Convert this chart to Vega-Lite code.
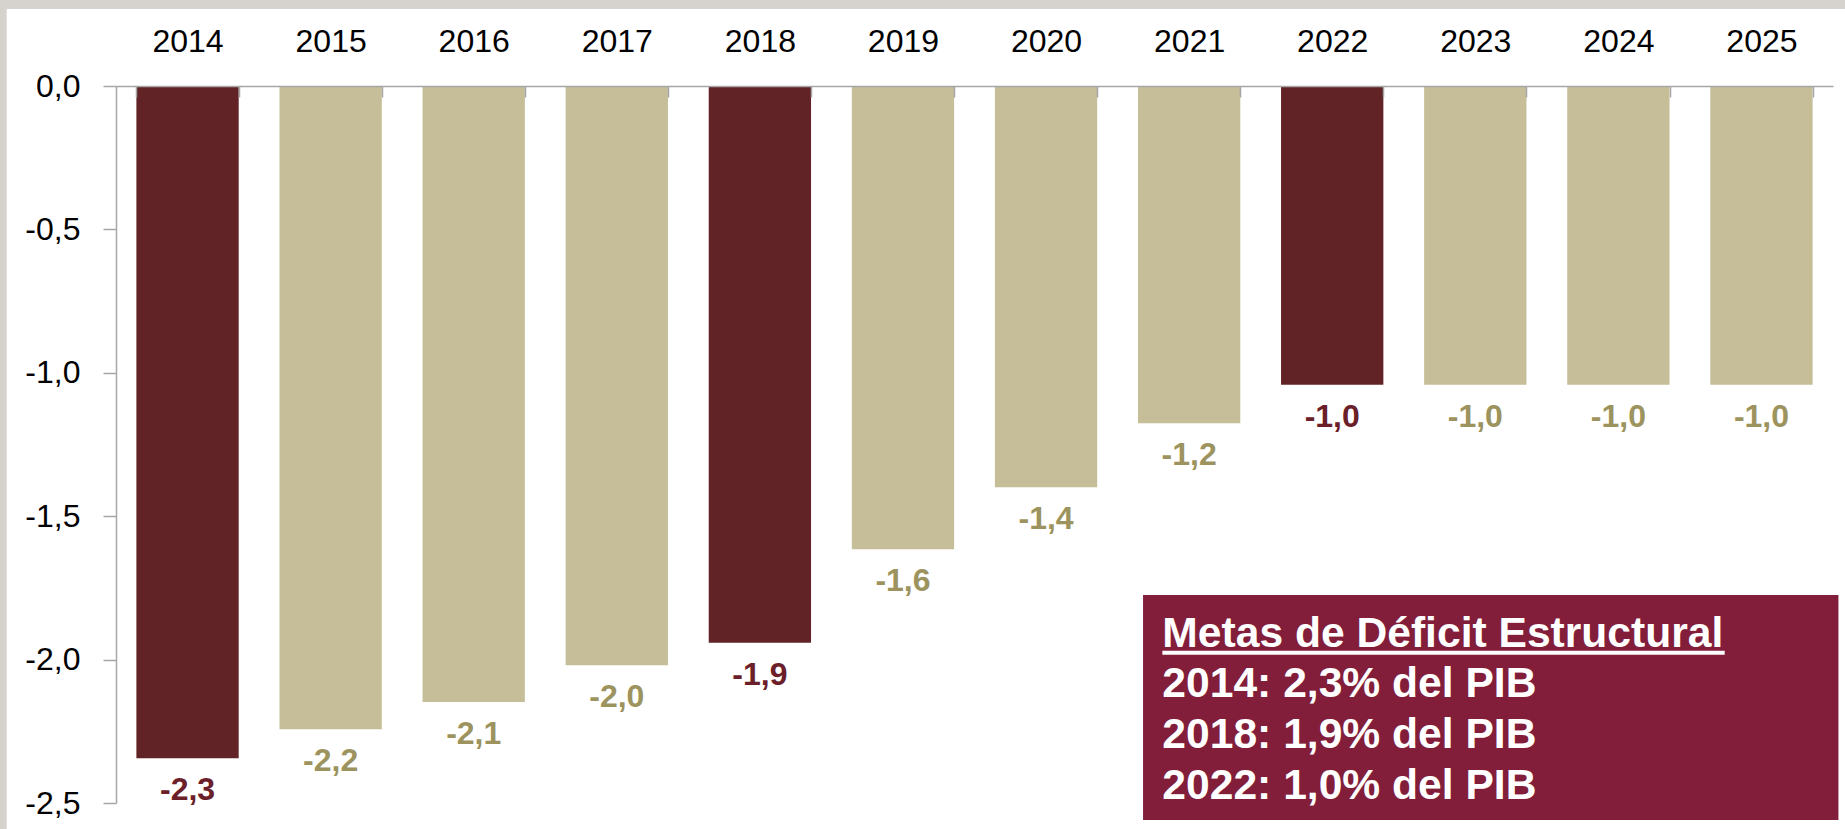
{
  "$schema": "https://vega.github.io/schema/vega-lite/v6.json",
  "autosize": {"type": "none"},
  "width": 1717,
  "height": 717,
  "padding": {"left": 116, "top": 86, "right": 12, "bottom": 26},
  "background": "#d6d3ce",
  "config": {
    "view": {"stroke": null},
    "font": "Liberation Sans",
    "axis": {"domainColor": "#a6a6a6", "tickColor": "#a6a6a6", "domainWidth": 1.5, "tickWidth": 1.5, "labelFontSize": 32, "labelColor": "#000000", "labelFont": "Liberation Sans", "grid": false}
  },
  "datasets": {
    "fondo": [{"x1": -0.764, "x2": 12.3, "y1": 0.2685, "y2": -2.8}],
    "barras": [
      {"anio": "2014", "valor": -2.344, "etiqueta": "-2,3", "meta": "si"},
      {"anio": "2015", "valor": -2.243, "etiqueta": "-2,2", "meta": "no"},
      {"anio": "2016", "valor": -2.148, "etiqueta": "-2,1", "meta": "no"},
      {"anio": "2017", "valor": -2.020, "etiqueta": "-2,0", "meta": "no"},
      {"anio": "2018", "valor": -1.941, "etiqueta": "-1,9", "meta": "si"},
      {"anio": "2019", "valor": -1.615, "etiqueta": "-1,6", "meta": "no"},
      {"anio": "2020", "valor": -1.399, "etiqueta": "-1,4", "meta": "no"},
      {"anio": "2021", "valor": -1.176, "etiqueta": "-1,2", "meta": "no"},
      {"anio": "2022", "valor": -1.042, "etiqueta": "-1,0", "meta": "si"},
      {"anio": "2023", "valor": -1.042, "etiqueta": "-1,0", "meta": "no"},
      {"anio": "2024", "valor": -1.042, "etiqueta": "-1,0", "meta": "no"},
      {"anio": "2025", "valor": -1.042, "etiqueta": "-1,0", "meta": "no"}
    ],
    "recuadro": [{"x1": 7.178, "x2": 12.038, "y1": -1.775, "y2": -2.559}],
    "subrayado": [{"x1": 7.313, "x2": 11.243, "y": -1.976}],
    "textos": [
      {"x": 7.313, "y": -1.955, "texto": "Metas de Déficit Estructural"},
      {"x": 7.313, "y": -2.131, "texto": "2014: 2,3% del PIB"},
      {"x": 7.313, "y": -2.309, "texto": "2018: 1,9% del PIB"},
      {"x": 7.313, "y": -2.487, "texto": "2022: 1,0% del PIB"}
    ]
  },
  "layer": [
    {
      "data": {"name": "fondo"},
      "mark": {"type": "rect", "color": "#ffffff"},
      "encoding": {
        "x": {"field": "x1", "type": "quantitative", "scale": {"domain": [0, 12], "nice": false, "zero": false}, "axis": null},
        "x2": {"field": "x2"},
        "y": {"field": "y1", "type": "quantitative", "scale": {"domain": [-2.5, 0], "nice": false, "zero": false},
          "axis": {"title": null, "zindex": 1, "values": [0, -0.5, -1, -1.5, -2, -2.5], "labelExpr": "replace(replace(format(datum.value, '.1f'), '.', ','), '\u2212', '-')", "tickSize": 13, "labelPadding": 23}},
        "y2": {"field": "y2"}
      }
    },
    {
      "data": {"name": "barras"},
      "resolve": {"scale": {"color": "independent"}},
      "layer": [
        {
          "mark": {"type": "bar"},
          "encoding": {
            "x": {
              "field": "anio", "type": "ordinal",
              "scale": {"paddingInner": 0.285, "paddingOuter": 0.1425},
              "axis": {"orient": "top", "title": null, "zindex": 1, "labelAngle": 0, "tickBand": "extent", "tickSize": -11, "labelPadding": 46, "labelBaseline": "alphabetic"}
            },
            "y": {
              "field": "valor", "type": "quantitative",
              "scale": {"domain": [-2.5, 0], "nice": false, "zero": false},
              "axis": {"title": null, "zindex": 1, "values": [0, -0.5, -1, -1.5, -2, -2.5], "labelExpr": "replace(replace(format(datum.value, '.1f'), '.', ','), '\u2212', '-')", "tickSize": 13, "labelPadding": 23}
            },
            "color": {
              "field": "meta", "type": "nominal",
              "scale": {"domain": ["si", "no"], "range": ["#622326", "#c5be98"]},
              "legend": null
            }
          }
        },
        {
          "mark": {"type": "text", "fontWeight": "bold", "fontSize": 32, "baseline": "alphabetic", "align": "center", "dy": 42, "font": "Liberation Sans"},
          "encoding": {
            "x": {
              "field": "anio", "type": "ordinal",
              "scale": {"paddingInner": 0.285, "paddingOuter": 0.1425},
              "axis": {"orient": "top", "title": null, "zindex": 1, "labelAngle": 0, "tickBand": "extent", "tickSize": -11, "labelPadding": 46, "labelBaseline": "alphabetic"}
            },
            "y": {
              "field": "valor", "type": "quantitative",
              "scale": {"domain": [-2.5, 0], "nice": false, "zero": false},
              "axis": {"title": null, "zindex": 1, "values": [0, -0.5, -1, -1.5, -2, -2.5], "labelExpr": "replace(replace(format(datum.value, '.1f'), '.', ','), '\u2212', '-')", "tickSize": 13, "labelPadding": 23}
            },
            "text": {"field": "etiqueta"},
            "color": {
              "field": "meta", "type": "nominal",
              "scale": {"domain": ["si", "no"], "range": ["#6b2029", "#9c935e"]},
              "legend": null
            }
          }
        }
      ]
    },
    {
      "layer": [
        {
          "data": {"name": "recuadro"},
          "mark": {"type": "rect", "color": "#821e3a"},
          "encoding": {
            "x": {"field": "x1", "type": "quantitative", "scale": {"domain": [0, 12], "nice": false, "zero": false}, "axis": null},
            "x2": {"field": "x2"},
            "y": {"field": "y1", "type": "quantitative", "scale": {"domain": [-2.5, 0], "nice": false, "zero": false},
              "axis": {"title": null, "zindex": 1, "values": [0, -0.5, -1, -1.5, -2, -2.5], "labelExpr": "replace(replace(format(datum.value, '.1f'), '.', ','), '\u2212', '-')", "tickSize": 13, "labelPadding": 23}},
            "y2": {"field": "y2"}
          }
        },
        {
          "data": {"name": "subrayado"},
          "mark": {"type": "rule", "color": "#ffffff", "strokeWidth": 4},
          "encoding": {
            "x": {"field": "x1", "type": "quantitative", "scale": {"domain": [0, 12], "nice": false, "zero": false}, "axis": null},
            "x2": {"field": "x2"},
            "y": {"field": "y", "type": "quantitative", "scale": {"domain": [-2.5, 0], "nice": false, "zero": false},
              "axis": {"title": null, "zindex": 1, "values": [0, -0.5, -1, -1.5, -2, -2.5], "labelExpr": "replace(replace(format(datum.value, '.1f'), '.', ','), '\u2212', '-')", "tickSize": 13, "labelPadding": 23}}
          }
        },
        {
          "data": {"name": "textos"},
          "mark": {"type": "text", "color": "#ffffff", "fontWeight": "bold", "fontSize": 42.6, "align": "left", "baseline": "alphabetic", "font": "Liberation Sans"},
          "encoding": {
            "x": {"field": "x", "type": "quantitative", "scale": {"domain": [0, 12], "nice": false, "zero": false}, "axis": null},
            "y": {"field": "y", "type": "quantitative", "scale": {"domain": [-2.5, 0], "nice": false, "zero": false},
              "axis": {"title": null, "zindex": 1, "values": [0, -0.5, -1, -1.5, -2, -2.5], "labelExpr": "replace(replace(format(datum.value, '.1f'), '.', ','), '\u2212', '-')", "tickSize": 13, "labelPadding": 23}},
            "text": {"field": "texto"}
          }
        }
      ]
    }
  ],
  "resolve": {"scale": {"x": "independent"}, "axis": {"x": "independent"}}
}
